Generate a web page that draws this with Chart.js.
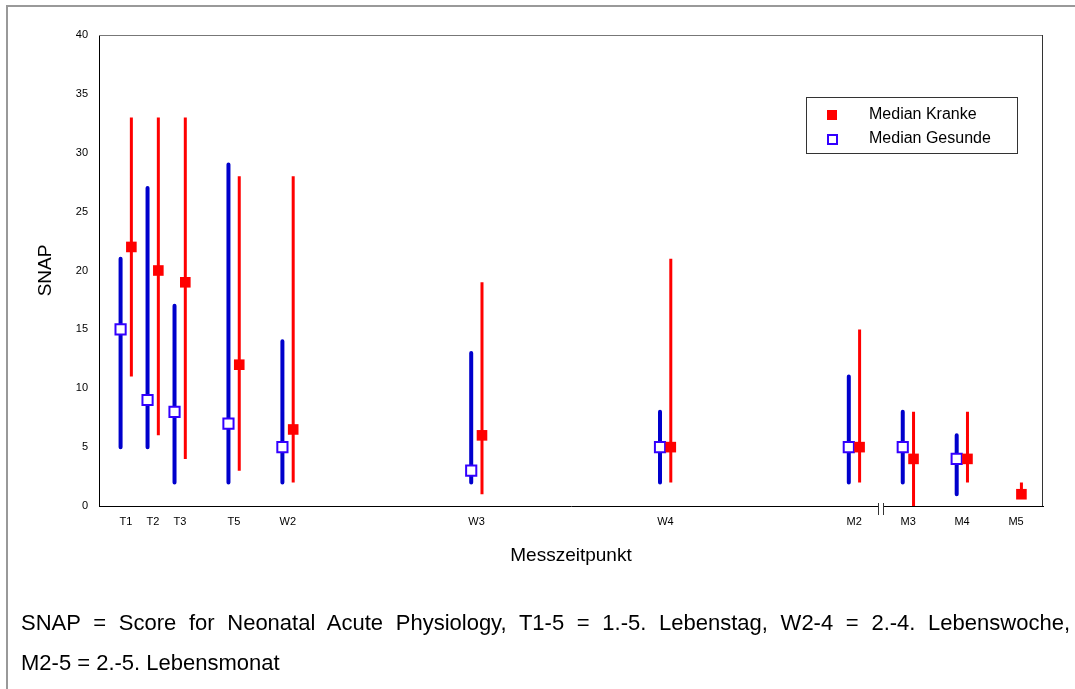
<!DOCTYPE html>
<html>
<head>
<meta charset="utf-8">
<script src="https://cdn.jsdelivr.net/npm/chart.js@4/dist/chart.umd.min.js"></script>
<style>
  body { margin: 0; background: #fff; }
  #wrap { position: relative; width: 1075px; height: 689px; overflow: hidden; font-family: "Liberation Sans", Arial, sans-serif; }
  #frame { position: absolute; left: 6px; top: 5px; width: 1200px; height: 800px; border-left: 2px solid #999; border-top: 2px solid #999; }
  canvas { position: absolute; left: 0; top: 0; }
  .caption { position: absolute; left: 21px; font-size: 22px; color: #000; white-space: nowrap; }
  .caption.first { width: 1049px; text-align: justify; text-align-last: justify; white-space: normal; }
</style>
</head>
<body>
<div id="wrap">
  <div id="frame"></div>
  <canvas id="canvas" width="1075" height="689"></canvas>
  <div class="caption first" style="top:610px">SNAP = Score for Neonatal Acute Physiology, T1-5 = 1.-5. Lebenstag, W2-4 = 2.-4. Lebenswoche,</div>
  <div class="caption" style="top:650px">M2-5 = 2.-5. Lebensmonat</div>
</div>
<script>
// Messzeitpunkte (Tage-Skala, Bruch zwischen M2 und M3)
const times = [1, 2, 3, 5, 7, 14, 21, 28, 30, 32, 34];
const tickLabels = ["T1", "T2", "T3", "T5", "W2", "W3", "W4", "M2", "M3", "M4", "M5"];

// Gesunde
const gesundeMin = [5, 5, 2, 2, 2, 2, 2, 2, 2, 1, null];
const gesundeMax = [21, 27, 17, 29, 14, 13, 8, 11, 8, 6, null];
const gesundeMedian = [15, 9, 8, 7, 5, 3, 5, 5, 5, 4, null];

// Kranke
const krankeMin = [11, 6, 4, 3, 2, 1, 2, 2, 0, 2, 1];
const krankeMax = [33, 33, 33, 28, 28, 19, 21, 15, 8, 8, 2];
const krankeMedian = [22, 20, 19, 12, 6.5, 6, 5, 5, 4, 4, 1];

const BREAK_AT = 29;
const FONT = "'Liberation Sans', Arial, sans-serif";
const BLUE = "#0000cc";
const BLUE_BOX = "#3300ff";
const RED = "#ff0000";

// Bereichslinien: je Zeitpunkt zwei Punkte, dann Lücke
function rangePoints(lo, hi, dx) {
  const pts = [];
  times.forEach((t, i) => {
    if (lo[i] == null) return;
    pts.push({ x: t + dx, y: lo[i] }, { x: t + dx, y: hi[i] }, { x: t + dx, y: null });
  });
  return pts;
}

function medianPoints(med, dx) {
  const pts = [];
  times.forEach((t, i) => {
    if (med[i] == null) return;
    pts.push({ x: t + dx, y: med[i] });
  });
  return pts;
}

// Rahmen oben/rechts, Achsenbruch, Legende
const extras = {
  id: "extras",
  afterDraw(chart) {
    const ctx = chart.ctx;
    const a = chart.chartArea;
    ctx.save();
    // Rahmen
    ctx.lineWidth = 1;
    ctx.strokeStyle = "#777";
    ctx.beginPath();
    ctx.moveTo(a.left, a.top + 0.5);
    ctx.lineTo(a.right, a.top + 0.5);
    ctx.stroke();
    ctx.strokeStyle = "#333";
    ctx.beginPath();
    ctx.moveTo(a.right - 0.5, a.top);
    ctx.lineTo(a.right - 0.5, a.bottom);
    ctx.stroke();

    // Achsenbruch
    const bx = Math.round(chart.scales.x.getPixelForValue(BREAK_AT));
    const by = a.bottom;
    ctx.fillStyle = "#fff";
    ctx.fillRect(bx - 2, by - 2, 4, 4);
    ctx.strokeStyle = "#333";
    ctx.beginPath();
    ctx.moveTo(bx - 2.5, by - 3);
    ctx.lineTo(bx - 2.5, by + 9);
    ctx.moveTo(bx + 2.5, by - 3);
    ctx.lineTo(bx + 2.5, by + 9);
    ctx.stroke();

    // Legende
    const lx = a.right - 237, ly = a.top + 62;
    ctx.fillStyle = "#fff";
    ctx.fillRect(lx, ly, 211, 56);
    ctx.strokeStyle = "#333";
    ctx.strokeRect(lx + 0.5, ly + 0.5, 211, 56);
    ctx.fillStyle = RED;
    ctx.fillRect(lx + 21, ly + 13, 10, 10);
    ctx.strokeStyle = BLUE_BOX;
    ctx.lineWidth = 2;
    ctx.strokeRect(lx + 22, ly + 38, 9, 9);
    ctx.fillStyle = "#000";
    ctx.font = "16px " + FONT;
    ctx.textBaseline = "middle";
    ctx.fillText("Median Kranke", lx + 63, ly + 18);
    ctx.fillText("Median Gesunde", lx + 63, ly + 42);
    ctx.restore();
  },
};

const ctx = document.getElementById("canvas").getContext("2d");

new Chart(ctx, {
  type: "line",
  data: {
    datasets: [
      {
        label: "Bereich Gesunde",
        data: rangePoints(gesundeMin, gesundeMax, -0.2),
        borderColor: BLUE,
        borderWidth: 4,
        borderCapStyle: "round",
        pointRadius: 0,
        spanGaps: false,
        order: 4,
      },
      {
        label: "Bereich Kranke",
        data: rangePoints(krankeMin, krankeMax, 0.2),
        borderColor: RED,
        borderWidth: 3,
        borderCapStyle: "butt",
        pointRadius: 0,
        spanGaps: false,
        order: 3,
      },
      {
        label: "Median Gesunde",
        data: medianPoints(gesundeMedian, -0.2),
        showLine: false,
        pointStyle: "rect",
        pointRadius: 7.2,
        pointBackgroundColor: "#fff",
        pointBorderColor: BLUE_BOX,
        pointBorderWidth: 2,
        order: 2,
      },
      {
        label: "Median Kranke",
        data: medianPoints(krankeMedian, 0.2),
        showLine: false,
        pointStyle: "rect",
        pointRadius: 7.5,
        pointBackgroundColor: RED,
        pointBorderWidth: 0,
        order: 1,
      },
    ],
  },
  options: {
    responsive: false,
    animation: false,
    events: [],
    layout: {
      padding: { left: 34, right: 32, top: 35, bottom: 122 },
    },
    plugins: {
      legend: { display: false },
      tooltip: { enabled: false },
    },
    scales: {
      x: {
        type: "linear",
        min: 0,
        max: 35,
        afterBuildTicks: (s) => {
          s.ticks = times.map((v) => ({ value: v }));
        },
        afterFit: (s) => {
          s.height = 61;
        },
        ticks: {
          autoSkip: false,
          maxRotation: 0,
          padding: 9,
          color: "#000",
          font: { size: 11, family: FONT },
          callback: (v) => tickLabels[times.indexOf(v)],
        },
        grid: { display: false, drawTicks: false },
        border: { display: true, color: "#000", width: 1 },
        title: {
          display: true,
          text: "Messzeitpunkt",
          color: "#000",
          padding: { top: 0, bottom: 0 },
          font: { size: 19, family: FONT },
        },
      },
      y: {
        min: 0,
        max: 40,
        afterFit: (s) => {
          s.width = 65;
        },
        ticks: {
          stepSize: 5,
          padding: 11,
          color: "#000",
          font: { size: 11, family: FONT },
        },
        grid: { display: false, drawTicks: false },
        border: { display: true, color: "#000", width: 1 },
        title: {
          display: true,
          text: "SNAP",
          color: "#000",
          padding: { top: 0, bottom: 0 },
          font: { size: 19, family: FONT },
        },
      },
    },
  },
  plugins: [extras],
});
</script>
</body>
</html>
